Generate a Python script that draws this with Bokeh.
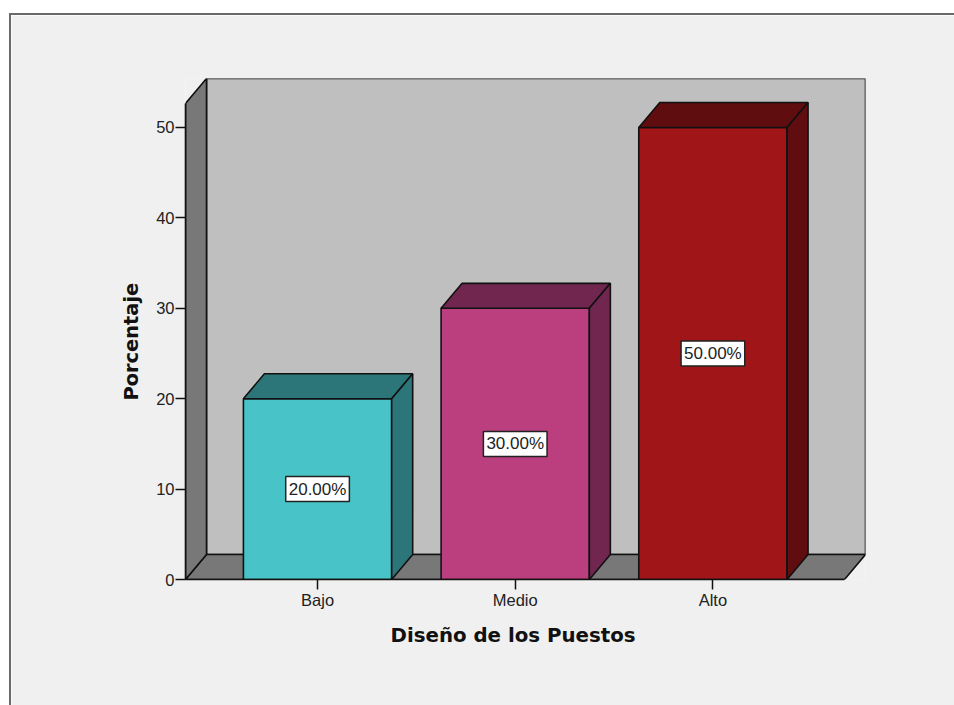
from bokeh.core.properties import value
from bokeh.embed import file_html
from bokeh.models import ColumnDataSource, FixedTicker, Range1d, Title
from bokeh.plotting import figure
from bokeh.resources import INLINE

categories = ["Bajo", "Medio", "Alto"]
percentages = [20, 30, 50]
front_colors = ["#48c4c8", "#bb3f7f", "#a01518"]
shade_colors = ["#2c767a", "#712650", "#600d10"]
y_ticks = [0, 10, 20, 30, 40, 50]

X_LABEL = "Diseño de los Puestos"
Y_LABEL = "Porcentaje"

# Plot frame bounds in axis units, and the oblique offset used for the 3D effect
x_min, x_max = -0.668, 2.772
y_max = 55.42
depth_x, depth_y = 0.1063, 2.762
half_bar = 0.375
floor_right = x_max - depth_x
wall_top = y_max - depth_y

# The grey panel is the figure itself, set in from the page's top and left edges
p = figure(
    width=943, height=690, output_backend="svg", toolbar_location=None,
    x_range=Range1d(x_min, x_max), y_range=Range1d(0, y_max),
    min_border_left=174, min_border_right=91, min_border_top=63, min_border_bottom=128,
    border_fill_color="#f0f0f0", background_fill_color="#f0f0f0", outline_line_color=None,
    margin=(13, 0, 0, 9),
    styles={"border-left": "2px solid #6a6a6a", "border-top": "2px solid #6a6a6a",
            "box-sizing": "content-box"},
)
p.grid.visible = False

# Back wall, floor and side wall of the box
p.patches(
    xs=[[x_min + depth_x, x_max, x_max, x_min + depth_x],
        [x_min, floor_right, x_max, x_min + depth_x],
        [x_min, x_min + depth_x, x_min + depth_x, x_min]],
    ys=[[depth_y, depth_y, y_max, y_max],
        [0, 0, depth_y, depth_y],
        [0, depth_y, y_max, wall_top]],
    fill_color=["#bfbfbf", "#787878", "#787878"], line_color="#111111", line_width=1.6,
)

# Each bar has a front, a top and a right-hand face
for i, v in enumerate(percentages):
    x0, x1 = i - half_bar, i + half_bar
    p.patch([x0, x1, x1, x0], [0, 0, v, v], fill_color=front_colors[i],
            line_color="#111111", line_width=1.6)
    p.patch([x0, x1, x1 + depth_x, x0 + depth_x], [v, v, v + depth_y, v + depth_y],
            fill_color=shade_colors[i], line_color="#111111", line_width=1.6)
    p.patch([x1, x1 + depth_x, x1 + depth_x, x1], [0, depth_y, v + depth_y, v],
            fill_color=shade_colors[i], line_color="#111111", line_width=1.6)

labels = ColumnDataSource(dict(
    x=list(range(len(categories))),
    y=[v / 2 for v in percentages],
    text=[f"{v:.2f}%" for v in percentages],
))
p.text(
    x="x", y="y", text="text", source=labels,
    text_font=value("Liberation Sans"), text_font_size="17px", text_color="#222222",
    text_align="center", text_baseline="middle",
    background_fill_color="#ffffff", border_line_color="#222222", border_line_width=1.5,
    padding=3,
)

xa = p.xaxis[0]
xa.ticker = FixedTicker(ticks=list(range(len(categories))))
xa.major_label_overrides = {i: c for i, c in enumerate(categories)}
xa.bounds = (x_min, floor_right)

ya = p.yaxis[0]
ya.ticker = FixedTicker(ticks=y_ticks)
ya.bounds = (0, wall_top)

for ax in (xa, ya):
    ax.axis_line_color = "#111111"
    ax.axis_line_width = 1.6
    ax.major_tick_line_color = "#111111"
    ax.major_tick_line_width = 1.5
    ax.major_tick_out = 10
    ax.major_tick_in = 0
    ax.minor_tick_line_color = None
    ax.major_label_text_font = "Liberation Sans"
    ax.major_label_text_font_size = "16.5px"
    ax.major_label_text_color = "#222222"
    ax.major_label_standoff = 1
ya.major_label_orientation = "horizontal"

# Axis titles sit off the frame's centre, so they are side titles with an offset
p.add_layout(Title(
    text=X_LABEL, align="left", offset=205, standoff=20,
    text_font="DejaVu Sans", text_font_style="bold", text_font_size="19.8px", text_color="#111111",
), "below")
p.add_layout(Title(
    text=Y_LABEL, align="left", offset=179, standoff=21,
    text_font="DejaVu Sans", text_font_style="bold", text_font_size="19.4px", text_color="#111111",
), "left")

open("out.html", "w").write(file_html(p, INLINE))
